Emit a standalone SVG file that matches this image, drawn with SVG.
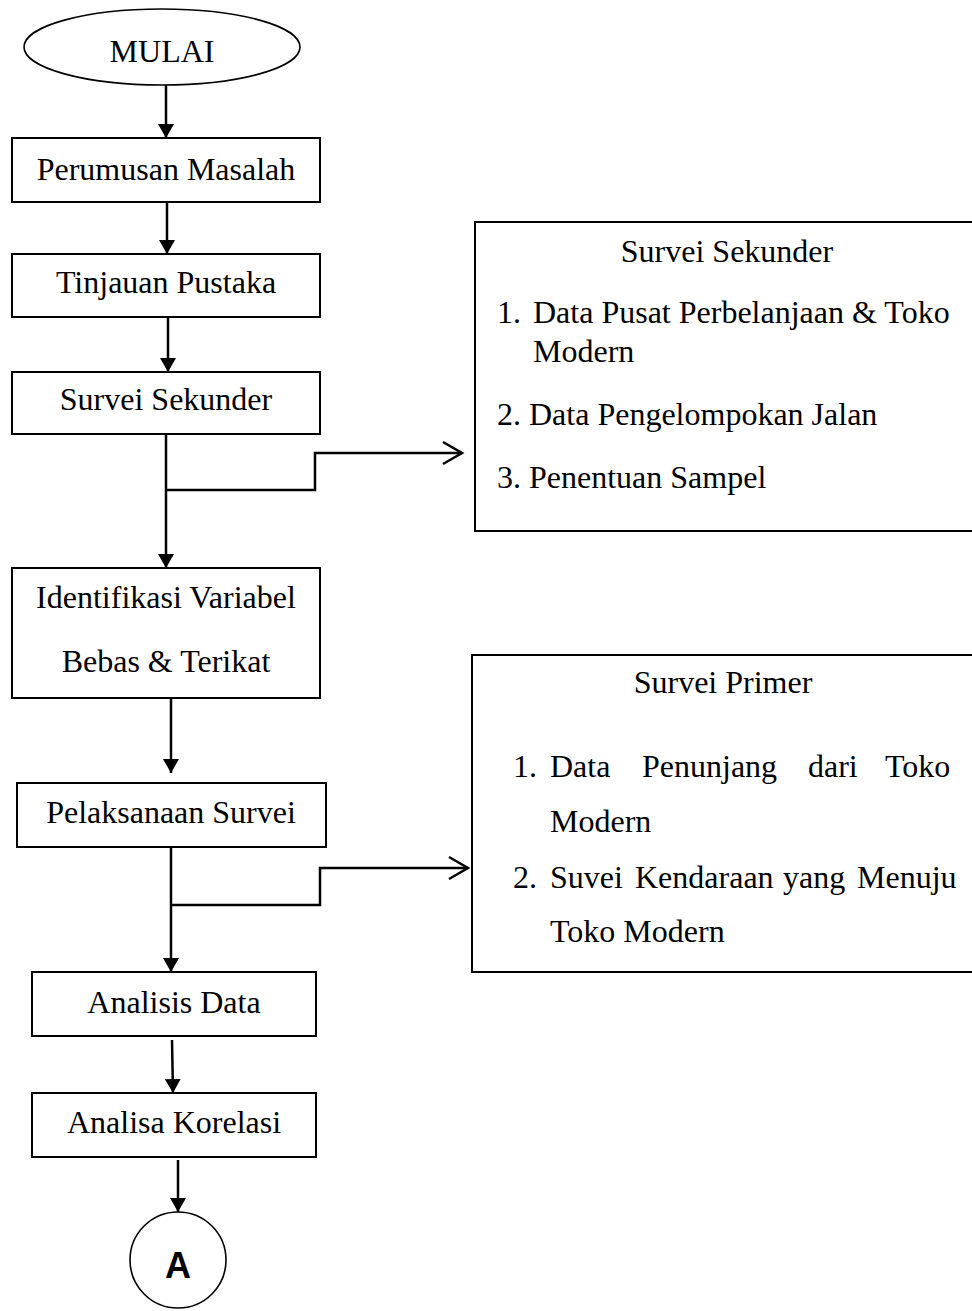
<svg xmlns="http://www.w3.org/2000/svg" width="972" height="1311" viewBox="0 0 972 1311">
<style>
.box{fill:#fff;stroke:#000;stroke-width:2}
.thin{fill:#fff;stroke:#000;stroke-width:1.6}
.t{font-family:"Liberation Serif","Times New Roman",serif;font-size:32px;fill:#000}
.c{text-anchor:middle}
.ln{fill:none;stroke:#000;stroke-width:2.5}
</style>
<defs>
<marker id="ah" markerUnits="userSpaceOnUse" markerWidth="14" markerHeight="16" viewBox="0 0 14 16" refX="14" refY="8" orient="auto">
<path d="M0,0 L14,8 L0,16 Z" fill="#000"/>
</marker>
<marker id="oa" markerUnits="userSpaceOnUse" markerWidth="24" markerHeight="26" viewBox="0 0 24 26" refX="20" refY="13" orient="auto" overflow="visible">
<path d="M1,2 L20,13 L1,24" fill="none" stroke="#000" stroke-width="2.5"/>
</marker>
</defs>
<rect width="972" height="1311" fill="#fff"/>
<g id="connectors">
<line class="ln" x1="166" y1="85" x2="166" y2="138" marker-end="url(#ah)"/>
<line class="ln" x1="167" y1="202" x2="167" y2="254" marker-end="url(#ah)"/>
<line class="ln" x1="168" y1="317" x2="168" y2="372" marker-end="url(#ah)"/>
<line class="ln" x1="166" y1="434" x2="166" y2="568" marker-end="url(#ah)"/>
<polyline class="ln" points="166,490 315,490 315,453 462,453" marker-end="url(#oa)"/>
<line class="ln" x1="171" y1="698" x2="171" y2="773" marker-end="url(#ah)"/>
<line class="ln" x1="171" y1="847" x2="171" y2="972" marker-end="url(#ah)"/>
<polyline class="ln" points="171,905 320,905 320,868 468,868" marker-end="url(#oa)"/>
<line class="ln" x1="172" y1="1040" x2="173" y2="1093" marker-end="url(#ah)"/>
<line class="ln" x1="178" y1="1160" x2="178" y2="1212" marker-end="url(#ah)"/>
</g>
<g id="mulai">
<ellipse class="thin" cx="162" cy="47" rx="138" ry="38"/>
<text class="t c" x="162" y="62">MULAI</text>
</g>
<g id="perumusan">
<rect class="box" x="12" y="138" width="308" height="64"/>
<text class="t c" x="166" y="180">Perumusan Masalah</text>
</g>
<g id="tinjauan">
<rect class="box" x="12" y="254" width="308" height="63"/>
<text class="t c" x="166" y="293">Tinjauan Pustaka</text>
</g>
<g id="survei-sekunder">
<rect class="box" x="12" y="372" width="308" height="62"/>
<text class="t c" x="166" y="410">Survei Sekunder</text>
</g>
<g id="identifikasi">
<rect class="box" x="12" y="568" width="308" height="130"/>
<text class="t c" x="166" y="608">Identifikasi Variabel</text>
<text class="t c" x="166" y="672">Bebas &amp; Terikat</text>
</g>
<g id="pelaksanaan">
<rect class="box" x="17" y="783" width="309" height="64"/>
<text class="t c" x="171" y="823">Pelaksanaan Survei</text>
</g>
<g id="analisis">
<rect class="box" x="32" y="972" width="284" height="64"/>
<text class="t c" x="174" y="1013">Analisis Data</text>
</g>
<g id="korelasi">
<rect class="box" x="32" y="1093" width="284" height="64"/>
<text class="t c" x="174" y="1133">Analisa Korelasi</text>
</g>
<g id="connector-a">
<circle class="thin" cx="178" cy="1260" r="48"/>
<text x="178" y="1278" text-anchor="middle" font-family="Liberation Sans, Arial, sans-serif" font-weight="bold" font-size="36">A</text>
</g>
<g id="sekunder-detail">
<rect class="box" x="475" y="222" width="500" height="309"/>
<text class="t c" x="727" y="262">Survei Sekunder</text>
<text class="t" x="497" y="323">1.</text>
<text class="t" x="533" y="323">Data Pusat Perbelanjaan &amp; Toko</text>
<text class="t" x="533" y="362">Modern</text>
<text class="t" x="497" y="425">2. Data Pengelompokan Jalan</text>
<text class="t" x="497" y="488">3. Penentuan Sampel</text>
</g>
<g id="primer-detail">
<rect class="box" x="472" y="655" width="503" height="317"/>
<text class="t c" x="723" y="693">Survei Primer</text>
<text class="t" y="777"><tspan x="513">1.</tspan><tspan x="550">Data</tspan><tspan x="642">Penunjang</tspan><tspan x="808">dari</tspan><tspan x="885">Toko</tspan></text>
<text class="t" x="550" y="832">Modern</text>
<text class="t" y="888"><tspan x="513">2.</tspan><tspan x="550">Suvei</tspan><tspan x="635">Kendaraan</tspan><tspan x="783">yang</tspan><tspan x="857">Menuju</tspan></text>
<text class="t" x="550" y="942">Toko Modern</text>
</g>
</svg>
